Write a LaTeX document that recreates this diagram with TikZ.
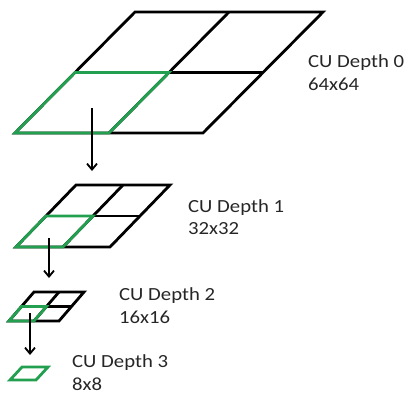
\documentclass[tikz,border=0pt]{standalone}
\usepackage{fontspec}
\setmainfont{Carlito}[FakeStretch=1.12]
\usetikzlibrary{arrows.meta}
\definecolor{cugreen}{RGB}{34,160,80}
\tikzset{
  grid/.style={draw=black,line width=2.8pt,line join=miter},
  sub/.style={draw=cugreen,line width=2.8pt,line join=miter},
  flow/.style={draw=black,line width=1.8pt,-{Straight Barb[length=6pt,width=10pt,line width=1.8pt]}},
  lbl/.style={anchor=base west,inner sep=0pt,font=\fontsize{18.5}{23}\selectfont,text=black!85},
}
% \cuquad{x}{y}{w}{dx}{dy}{name}: bottom-left at (x,y)
\newcommand\cuquad[6]{%
  \coordinate (#6BL) at (#1,#2);
  \coordinate (#6BR) at ({#1+#3},#2);
  \coordinate (#6TR) at ({#1+#3+#4},{#2-#5});
  \coordinate (#6TL) at ({#1+#4},{#2-#5});
  \coordinate (#6ML) at ({#1+#4/2},{#2-#5/2});
  \coordinate (#6MR) at ({#1+#3+#4/2},{#2-#5/2});
  \coordinate (#6MB) at ({#1+#3/2},#2);
  \coordinate (#6MT) at ({#1+#3/2+#4},{#2-#5});
  \coordinate (#6C) at ({#1+#3/2+#4/2},{#2-#5/2});
  \draw[grid] (#6BL) -- (#6BR) -- (#6TR) -- (#6TL) -- cycle;
  \draw[grid] (#6ML) -- (#6MR);
  \draw[grid] (#6MB) -- (#6MT);
  \draw[sub] (#6BL) -- (#6MB) -- (#6C) -- (#6ML) -- cycle;
}
\begin{document}
\begin{tikzpicture}[x=1pt,y=-1pt]
\useasboundingbox (0,0) rectangle (408,394);
\cuquad{15}{133}{188}{120}{121}{a}
\cuquad{16}{247}{94}{60}{62}{b}
\cuquad{9}{321}{50}{25}{29}{c}
\draw[sub] (10,380) coordinate (dBL) -- (36,380) coordinate (dBR) -- (48,367) coordinate (dTR) -- (22,367) coordinate (dTL) -- cycle;
\coordinate (s0) at (92,108);
\coordinate (e0) at (92,171);
\coordinate (s1) at (49,238);
\coordinate (e1) at (49,278);
\coordinate (s2) at (30,313);
\coordinate (e2) at (30,355);
\draw[flow] (s0) -- (e0);
\draw[flow] (s1) -- (e1);
\draw[flow] (s2) -- (e2);
\node[lbl] (t0) at (308,67) {CU Depth 0};
\node[lbl] (u0) at (308,90) {64x64};
\node[lbl] (t1) at (188,212) {CU Depth 1};
\node[lbl] (u1) at (188,234) {32x32};
\node[lbl] (t2) at (119,300) {CU Depth 2};
\node[lbl] (u2) at (119,323) {16x16};
\node[lbl] (t3) at (72,367) {CU Depth 3};
\node[lbl] (u3) at (72,390) {8x8};
\end{tikzpicture}
\end{document}
